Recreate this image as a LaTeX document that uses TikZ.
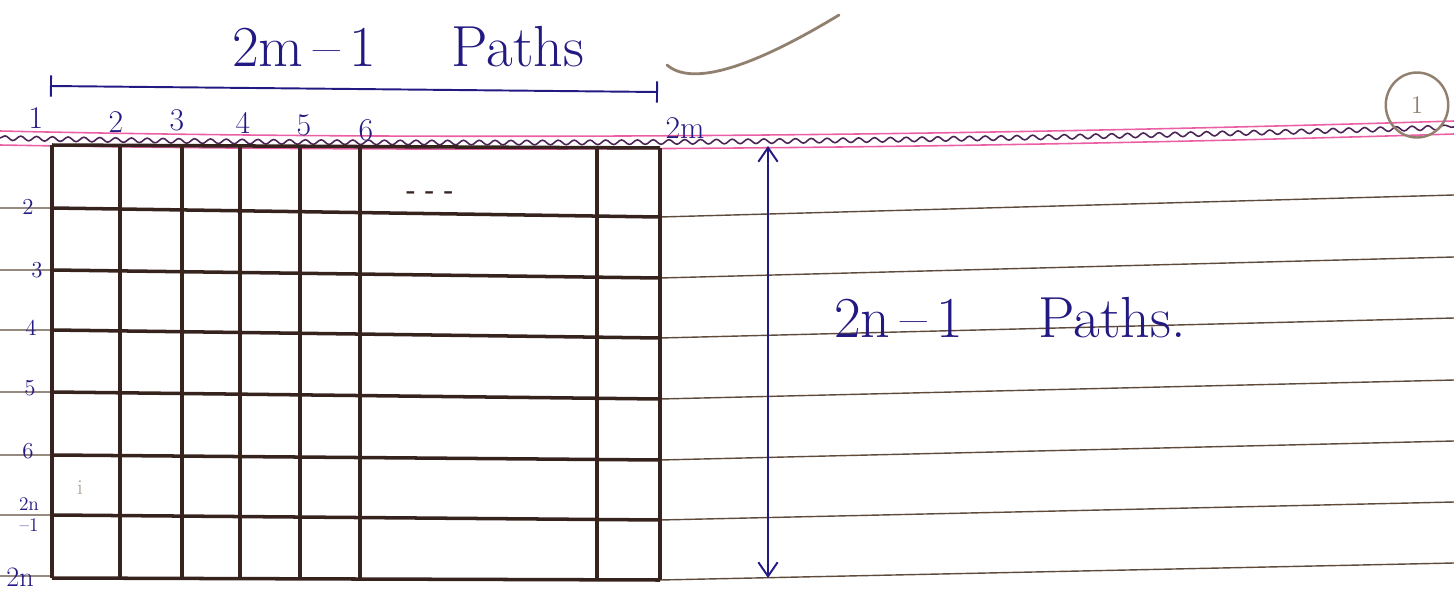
\documentclass[tikz,border=0pt]{standalone}
\usetikzlibrary{arrows.meta, decorations.pathmorphing, shapes.geometric, positioning}
\definecolor{inkblue}{RGB}{35,25,130}
\definecolor{gridbrown}{RGB}{55,35,30}
\definecolor{rulebrown}{RGB}{95,75,60}
\definecolor{marginpink}{RGB}{235,95,165}
\definecolor{wavepurple}{RGB}{75,35,85}
\definecolor{pencil}{RGB}{145,128,112}
\tikzset{>={Straight Barb[length=8pt, width=11pt]}}
\tikzset{
  gridline/.style={draw=gridbrown, line width=2pt},
  ruleline/.style={draw=rulebrown, line width=0.8pt},
  pinkline/.style={draw=marginpink, line width=0.9pt},
  waveline/.style={draw=wavepurple, line width=0.9pt, decorate, decoration={snake, amplitude=1.3pt, segment length=9pt}},
  dimline/.style={draw=inkblue, line width=1.1pt},
  collabel/.style={text=inkblue, font=\fontsize{18}{18}\selectfont, inner sep=0pt},
  rowlabel/.style={text=inkblue, font=\fontsize{13}{13}\selectfont, inner sep=0pt},
  bigtext/.style={text=inkblue, font=\fontsize{33}{33}\selectfont, inner sep=0pt}
}

\begin{document}
\begin{tikzpicture}[x=0.02cm, y=-0.02cm]
	\useasboundingbox (0,0) rectangle (1454,592);
	% Margin lines at the top of the page:
	\draw[pinkline] (0,131) .. controls (400,140) and (900,138) .. (1454,121);
	\draw[pinkline] (0,145) .. controls (400,152) and (900,151) .. (1454,134);
	\draw[waveline] (0,138) .. controls (400,146) and (900,144) .. (1454,127);
	% Ruled lines of the page:
	\draw[ruleline] (0,208) -- (52,208) (660,217) -- (1454,195);
	\draw[ruleline] (0,270) -- (52,270) (660,278) -- (1454,257);
	\draw[ruleline] (0,330) -- (52,330) (660,338) -- (1454,318);
	\draw[ruleline] (0,392) -- (52,392) (660,399) -- (1454,380);
	\draw[ruleline] (0,455) -- (52,455) (660,460) -- (1454,441);
	\draw[ruleline] (0,515) -- (52,515) (660,520) -- (1454,502);
	\draw[ruleline] (0,576) -- (52,576) (660,580) -- (1454,563);
	% Grid:
	\draw[gridline] (52,145) -- (52,578) (120,145) -- (120,578) (182,146) -- (182,578) (240,147) -- (240,578)
		(300,148) -- (300,578) (360,148) -- (360,578) (597,148) -- (597,580) (660,148) -- (660,580);
	\draw[gridline] (52,145) -- (660,148) (52,208) -- (660,217) (52,270) -- (660,278) (52,330) -- (660,338)
		(52,392) -- (660,399) (52,455) -- (660,460) (52,515) -- (660,520) (52,578) -- (660,580);
	\node[text=gridbrown, font=\bfseries\Large] (dashes) at (430,195){- - -};
	\node[text=pencil!70, font=\large] (gap) at (80,488){i};
	% Column numbers:
	\node[collabel] (col1) at (36,118){1};
	\node[collabel] (col2) at (116,122){2};
	\node[collabel] (col3) at (177,120){3};
	\node[collabel] (col4) at (243,123){4};
	\node[collabel] (col5) at (304,125){5};
	\node[collabel] (col6) at (366,130){6};
	\node[collabel] (col2m) at (685,128){2m};
	% Row numbers:
	\node[rowlabel] (row2) at (28,207){2};
	\node[rowlabel] (row3) at (37,270){3};
	\node[rowlabel] (row4) at (31,328){4};
	\node[rowlabel] (row5) at (30,388){5};
	\node[rowlabel] (row6) at (28,451){6};
	\node[rowlabel, align=center, font=\fontsize{11}{10}\selectfont] (row2n1) at (29,515){2n\\[2pt]--1};
	\node[rowlabel, font=\fontsize{16}{16}\selectfont] (row2n) at (20,577){2n};
	% Widths and heights:
	\coordinate (wleft) at (50,86);
	\coordinate (wright) at (658,92);
	\draw[dimline, {Bar[width=12pt]}-{Bar[width=12pt]}] (wleft) -- (wright);
	\node[bigtext] (wtext) at (408,47){2m\,--\,1\quad\ Paths};
	\coordinate (htop) at (768,146);
	\coordinate (hbottom) at (768,578);
	\draw[dimline, <->] (htop) -- (hbottom);
	\node[bigtext] (htext) at (1010,318){2n\,--\,1\quad\ Paths.};
	% Pencil marks:
	\draw[pencil, line width=1.6pt, line cap=round] (667,65) .. controls (690,85) and (745,72) .. (839,15);
	\node[draw=pencil, line width=1.4pt, shape=ellipse, minimum width=1.25cm, minimum height=1.3cm, text=pencil, font=\Large] (pagenum) at (1417,105){1};
\end{tikzpicture}
\end{document}
